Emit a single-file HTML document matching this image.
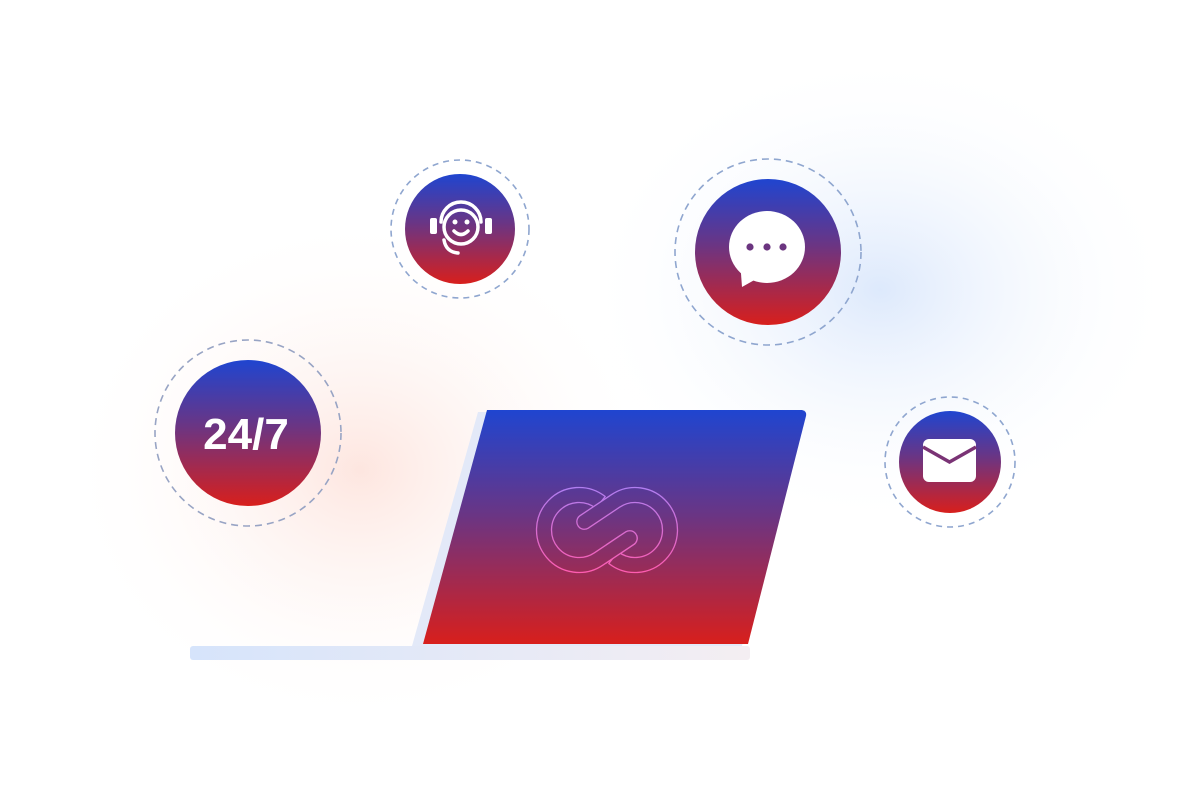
<!DOCTYPE html>
<html><head><meta charset="utf-8"><style>
html,body{margin:0;padding:0;background:#fff;}
svg{display:block}
</style></head><body>
<svg width="1180" height="800" viewBox="0 0 1180 800" xmlns="http://www.w3.org/2000/svg">
<defs>
<linearGradient id="g" x1="0" y1="0" x2="0" y2="1">
<stop offset="0" stop-color="#1f45d0"/><stop offset="0.45" stop-color="#6a3584"/><stop offset="1" stop-color="#d81f1c"/>
</linearGradient>
<linearGradient id="gs" gradientUnits="userSpaceOnUse" x1="0" y1="410" x2="0" y2="644">
<stop offset="0" stop-color="#1f45d0"/><stop offset="0.45" stop-color="#6a3584"/><stop offset="1" stop-color="#d81f1c"/>
</linearGradient>
<linearGradient id="lg" gradientUnits="userSpaceOnUse" x1="0" y1="487" x2="0" y2="573">
<stop offset="0" stop-color="#b07ef2"/><stop offset="1" stop-color="#ff5cb0"/>
</linearGradient>
<linearGradient id="base" x1="0" y1="0" x2="1" y2="0">
<stop offset="0" stop-color="#d6e4fb"/><stop offset="1" stop-color="#f4eef2"/>
</linearGradient>
<radialGradient id="pink" cx="0.5" cy="0.5" r="0.5">
<stop offset="0" stop-color="#fde3dc" stop-opacity="0.9"/><stop offset="1" stop-color="#fff" stop-opacity="0"/>
</radialGradient>
<radialGradient id="blue" cx="0.5" cy="0.5" r="0.5">
<stop offset="0" stop-color="#dde9fc"/><stop offset="1" stop-color="#fff" stop-opacity="0"/>
</radialGradient>
<clipPath id="cp"><rect x="606" y="535" width="60" height="45"/></clipPath>
</defs>
<ellipse cx="360" cy="470" rx="300" ry="260" fill="url(#pink)"/>
<ellipse cx="880" cy="290" rx="300" ry="240" fill="url(#blue)"/>

<!-- laptop -->
<path d="M478 412 L798 412 L742 646 L412 646 Z" fill="#e3e9f8"/>
<path d="M487 410 L802 410 Q807 411 806 416 L748 644 L423 644 Z" fill="url(#gs)"/>
<rect x="190" y="646" width="560" height="14" rx="3" fill="url(#base)"/>
<g fill="url(#gs)" stroke="url(#lg)" stroke-width="1.3" stroke-linejoin="round">
<path id="p1" d="M602.8 565.2 A42.5 42.5 0 1 1 605.2 496.5 L595.9 508.3 A27.5 27.5 0 1 0 594.4 552.8 L625.8 531.8 A7.5 7.5 0 0 1 634.2 544.2 Z"/>
<path d="M579.8 515.8 L611.2 494.8 A42.5 42.5 0 1 1 608.8 563.5 L618.1 551.7 A27.5 27.5 0 1 0 619.6 507.2 L588.2 528.2 A7.5 7.5 0 0 1 579.8 515.8 Z"/>
<use href="#p1" clip-path="url(#cp)"/>
</g>

<!-- headset circle -->
<circle cx="460" cy="229" r="69" fill="none" stroke="#8fa6cf" stroke-width="1.6" stroke-dasharray="6 5"/>
<circle cx="460" cy="229" r="55" fill="url(#g)"/>
<g fill="none" stroke="#fff" stroke-width="3.5" stroke-linecap="round">
<circle cx="461" cy="227" r="17"/>
<path d="M441 222 A20 20 0 0 1 481 222"/>
<path d="M444 240 Q446 252 458 253"/>
<path d="M454 231 Q461 238 468 231"/>
</g>
<rect x="430" y="218" width="7" height="16" rx="2" fill="#fff"/>
<rect x="485" y="218" width="7" height="16" rx="2" fill="#fff"/>
<circle cx="455" cy="222" r="2.5" fill="#fff"/><circle cx="467" cy="222" r="2.5" fill="#fff"/>

<!-- chat circle -->
<circle cx="768" cy="252" r="93" fill="none" stroke="#8fa6cf" stroke-width="1.6" stroke-dasharray="7 5"/>
<circle cx="768" cy="252" r="73" fill="url(#g)"/>
<ellipse cx="767" cy="247" rx="38" ry="36" fill="#fff"/>
<path d="M740 260 L742 287 L758 278 Z" fill="#fff"/>
<circle cx="750" cy="247" r="3.6" fill="#6b3580"/><circle cx="767" cy="247" r="3.6" fill="#6b3580"/><circle cx="783" cy="247" r="3.6" fill="#6b3580"/>

<!-- 24/7 circle -->
<circle cx="248" cy="433" r="93" fill="none" stroke="#98a4c4" stroke-width="1.6" stroke-dasharray="7 5"/>
<circle cx="248" cy="433" r="73" fill="url(#g)"/>
<text x="246" y="449" text-anchor="middle" font-family="Liberation Sans, sans-serif" font-weight="bold" font-size="44" fill="#fff">24/7</text>

<!-- mail circle -->
<circle cx="950" cy="462" r="65" fill="none" stroke="#8fa6cf" stroke-width="1.6" stroke-dasharray="6 5"/>
<circle cx="950" cy="462" r="51" fill="url(#g)"/>
<rect x="923" y="439" width="53" height="43" rx="6" fill="#fff"/>
<path d="M923 447 L949.5 462 L976 447" fill="none" stroke="#7a3375" stroke-width="3.5"/>
</svg>
</body></html>
